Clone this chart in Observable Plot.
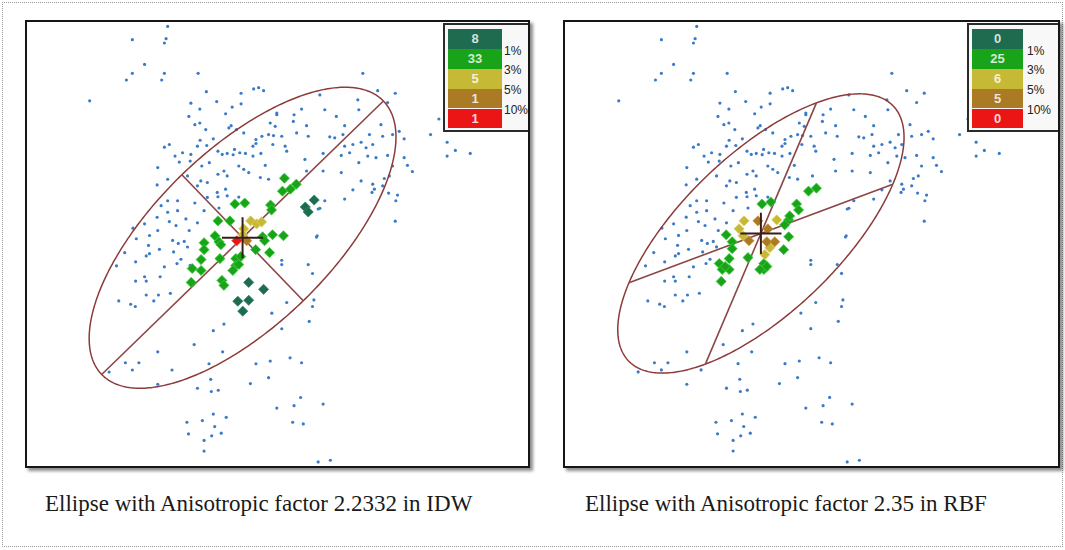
<!DOCTYPE html>
<html><head><meta charset="utf-8">
<script src="https://cdn.jsdelivr.net/npm/d3@7"></script>
<script src="https://cdn.jsdelivr.net/npm/@observablehq/plot@0.6"></script>
<style>
body{margin:0;background:#fff;}
#page{position:relative;width:1065px;height:550px;overflow:hidden;background:#fff;}
.outer{position:absolute;left:2px;top:2px;width:1061px;height:545px;border:1px dotted #9a9a9a;box-sizing:border-box;}
.panel{position:absolute;box-sizing:border-box;border:2px solid #161616;overflow:hidden;background:#fff;box-shadow:3px 3px 3px rgba(0,0,0,0.45);}
.panel svg{position:absolute;left:-2px;top:-2px;}
.caption{position:absolute;font-family:"Liberation Serif","Times New Roman",serif;font-size:23px;color:#1a1a1a;white-space:nowrap;line-height:23px;}
.lbox{position:absolute;box-sizing:border-box;border:2px solid #2a2a2a;background:#f8f8f8;}
.lcell{position:absolute;text-align:center;font-family:"Liberation Sans",Arial,sans-serif;font-size:13px;font-weight:bold;color:rgba(255,255,255,0.82);}
.llab{position:absolute;font-family:"Liberation Sans",Arial,sans-serif;font-size:12px;color:#222;line-height:14px;white-space:nowrap;}
</style></head>
<body><div id="page"><div class="outer"></div></div>
<script>
// ---------- data (image-pixel units of the left panel) ----------
const bluePoints = [
[168.3,26],[132.7,39.3],[166.7,38.3],[165,42.7],[145,64.3],[132.7,73.3],[126.7,80],[165,73.3],[162.3,80],[199,73.3],[89.7,101],[207.3,91.7],[255,89],[260,87.7],[265,90.7],[242.3,93.3],[191.7,103.3],[200.7,109.3],[217.7,101.7],[226.7,114],[233.3,107.3],[242.3,104],[189.7,116.7],[195.7,125],[200.7,123.3],[206.7,130],[232.3,126],[230,128.3],[237.7,130],[245,133.3],[271.7,123.3],[263.3,136.7],[257.3,140],[257.3,144],[254.3,146.7],[270,135],[275,136],[278.3,115],[165,147.7],[170,145],[175.7,156.7],[183.3,153.3],[191.7,155],[180,162.7],[198.3,146.7],[207.7,146],[214.3,139.3],[201,140.7],[219,151.7],[223.3,155],[228.3,154],[234.3,155.3],[235.7,150],[241,153.3],[246.7,154],[254.3,156.7],[262.3,154],[274.3,145],[266.7,166],[245,170],[250,173.3],[240,166.7],[225,171.7],[219,175],[228.3,176.7],[210.3,163.3],[202.7,166.7],[191,161.7],[158.3,168.3],[157.7,185.7],[168.3,180],[188.3,176.7],[208.3,183.3],[201.7,181.7],[218.3,193.3],[219,197.7],[226.7,190],[228.3,196.7],[240,198],[220,209],[208.3,198.3],[198.3,186.7],[161.7,206.7],[168.3,201.7],[178.3,201.7],[186.7,220],[195.7,204],[205,211.7],[168.3,213.3],[178.3,211.7],[157.7,218.3],[170,222.7],[176.7,226.7],[190,231.7],[198.3,224],[145,225],[150,236.7],[158.3,231.7],[133.3,229.3],[136.7,240],[173.3,241.7],[185,242.7],[261.7,178.3],[270,180],
[365,73.3],[380,90.7],[397.7,93.3],[390,102.7],[360,100],[361,110],[326.7,110],[321.7,95],[303.3,109.3],[295.7,115],[295,121.7],[278.3,113.3],[276.7,126.7],[308.3,126],[310,136.7],[298.3,133.3],[331.7,137.3],[336.7,138.3],[346.7,126],[338.3,116.7],[345,135],[346.7,146.7],[355,145],[363.3,142.7],[371.7,135],[375,145],[368.3,148.3],[383.3,125],[385,136.7],[395,135],[401.7,131.7],[406.7,139.3],[406.7,158.3],[410,166],[415,172.3],[395,166.7],[391.7,176.7],[390,156],[378.3,158.3],[370,156.7],[361,163.3],[351.7,153.3],[343.3,156],[325,154],[343.3,173.3],[355,190.7],[363.3,181.7],[375,185],[376.7,190],[374.3,193.3],[386.7,179.3],[385,186.7],[391,194],[400,196],[398.3,201.7],[326.7,201.7],[321.7,209.3],[346.7,200],[397.7,222.3],[318.3,238.3],[433.3,135],[441.7,119.3],[450,142.7],[450,156.7],[458.3,151],[473.3,154],[286.7,146.7],[288.3,151.7],[283.3,136.7],[306.7,160],[285,176.7],[308.3,171.7],[325,171.7],[320,210],[319,237],
[125,254],[116.7,267.3],[136,263.3],[146.7,257.3],[150,255],[149,246.7],[160,250.7],[174.3,253.3],[179,244.7],[188.3,248.3],[181.7,260.7],[177.7,265],[191,266.7],[165,268.3],[160.7,278.3],[145,278.3],[146.7,282.7],[136,282.7],[146.7,296.7],[159,296.7],[154.3,302.7],[171,295],[119,302.7],[131,306],[135.7,308.3],[195,346.7],[214.3,332.7],[225,326],[223.7,354],[210,366],[158.3,354],[125.7,365],[139.3,365],[132.7,372.3],[109.3,374.3],[172.7,372.3],[158.3,386.7],[198.3,390.7],[211.7,381.7],[212.3,394],[219.3,392.7],[257.3,366],[251.7,386],[271.7,363.3],[270,380],[273.3,315],[278.3,410.7],[187.7,425],[203.3,423.3],[214.3,416.7],[227.3,420],[215.7,429.3],[189.3,436.7],[205,443.3],[212.7,438.7],[222.3,436],[205,454],
[283.3,261.7],[283.3,266],[310,266],[314.3,275],[288.3,304.3],[315.7,301.7],[314.3,308.3],[311,323.3],[283.3,330.7],[291.7,360],[303.3,365],[302.3,400],[295.7,408.3],[325,406.7],[294.3,425],[305,426.7],[320,465],[332.3,463.3]
];

// Ellipses: centre, conjugate semi-diameters p and q
const ellipseCenters = [[243.8,239],[233,234.7]];
const ellipseP = [[142,-137.8],[133,-49.7]];
const ellipseQ = [[-61.2,-63.5],[56,-131.7]];

// Diamond markers, left panel (IDW)
const leftTeal = [[307,208],[310,213],[316,201],[250,284],[265,291],[239,303],[250,302],[244,313]];
const leftGreen = [[286,179],[284,192],[292,190],[298,185],[236,205],[246,204],[272,206],[273,211],[219,222],[231,222],[264,238],[274,236],[285,237],[216,237],[220,243],[205,244],[205,251],[222,246],[257,251],[271,254],[202,261],[221,260],[237,260],[237,267],[234,272],[240,266],[193,270],[202,272],[192,284],[223,282],[225,287],[266,242],[242,258]];
const leftYellow = [[245,230],[252,222],[258,225],[263,223],[244,236]];
const leftBrown = [[248,242]];
const leftRed = [[238,242]];

// Diamond markers, right panel (RBF)
const rightTeal = [];
const rightGreen = [[234,205],[243,203],[269,205],[271,211],[281,192],[289,189],[261,221],[257,226],[261,238],[198,236],[204,243],[204,250],[256,251],[201,260],[220,259],[191,265],[194,271],[201,271],[236,265],[236,271],[232,271],[193,283],[197,268],[239,268],[262,217]];
const rightYellow = [[216,222],[249,221],[215,237],[237,256],[211,230],[242,249]];
const rightBrown = [[230,222],[240,230],[221,242],[239,243],[247,243]];
const rightRed = [];

const classColors = ["#1e6b4f","#19a319","#c6b935","#ab7a24","#ec1515"];
const classStroke = ["#2e8a66","#3cd13c","#ddd060","#c99a40","#ff4040"];
const legendLabels = ["1%","3%","5%","10%"];
const captions = ["Ellipse with Anisotropic factor 2.2332 in IDW","Ellipse with Anisotropic factor 2.35 in RBF"];

// ---------- drawing ----------
const page = document.getElementById("page");
const panels = [
  {left:25, top:20, width:505, height:448, x0:25, classes:[leftTeal,leftGreen,leftYellow,leftBrown,leftRed],
   legend:{bx:443, cellX:448, cellW:54, labX:504}, cap:{x:45, y:492}},
  {left:563, top:20, width:497, height:448, x0:34, classes:[rightTeal,rightGreen,rightYellow,rightBrown,rightRed],
   legend:{bx:967, cellX:972, cellW:51, labX:1027}, cap:{x:585, y:492}}
];

panels.forEach((pn, i) => {
  const c = ellipseCenters[i], p = ellipseP[i], q = ellipseQ[i];
  const ell = d3.range(0, 361).map(a => {
    const t = a * Math.PI / 180;
    return {x: c[0] + p[0]*Math.cos(t) + q[0]*Math.sin(t), y: c[1] + p[1]*Math.cos(t) + q[1]*Math.sin(t)};
  });
  const axes = [p, q].map(v => ({x1: c[0]-v[0], y1: c[1]-v[1], x2: c[0]+v[0], y2: c[1]+v[1]}));
  const diamonds = [];
  pn.classes.forEach((arr, k) => arr.forEach(d => diamonds.push({x:d[0], y:d[1], k})));
  const order = [1,0,2,3,4];
  diamonds.sort((a,b) => order.indexOf(a.k) - order.indexOf(b.k));

  const svg = Plot.plot({
    width: pn.width, height: pn.height, margin: 0,
    x: {domain: [pn.x0, pn.x0 + pn.width], axis: null},
    y: {domain: [20 + pn.height, 20], axis: null},
    color: {type: "identity"},
    marks: [
      Plot.dot(bluePoints, {x: d => d[0], y: d => d[1], r: 1.6, fill: "#3a7bc8"}),
      Plot.line(ell, {x: "x", y: "y", stroke: "#8c3a3a", strokeWidth: 1.5}),
      Plot.link(axes, {x1: "x1", y1: "y1", x2: "x2", y2: "y2", stroke: "#8c4545", strokeWidth: 1.6}),
      Plot.dot(diamonds, {x: "x", y: "y", symbol: "diamond2", r: 4.6, fill: d => classColors[d.k], stroke: d => classStroke[d.k], strokeWidth: 0.8}),
      Plot.dot([c], {x: d => d[0], y: d => d[1], symbol: "plus", r: 13.4, stroke: "#3a1c18", strokeWidth: 2})
    ]
  });

  const div = document.createElement("div");
  div.className = "panel";
  Object.assign(div.style, {left: pn.left + "px", top: pn.top + "px", width: pn.width + "px", height: pn.height + "px"});
  div.appendChild(svg);

  // legend (positions given in page pixels, converted to panel padding box)
  const ox = pn.left + 2, oy = pn.top + 2;
  const L = pn.legend;
  const box = document.createElement("div");
  box.className = "lbox";
  Object.assign(box.style, {left: (L.bx - ox) + "px", top: (23 - oy) + "px", width: "110px", height: "109px"});
  div.appendChild(box);
  const rowTop = 29.3, rowH = 19.8;
  pn.classes.forEach((arr, k) => {
    const cell = document.createElement("div");
    cell.className = "lcell";
    Object.assign(cell.style, {left: (L.cellX - ox) + "px", top: (rowTop + k*rowH - oy) + "px", width: L.cellW + "px", height: rowH + "px", lineHeight: rowH + "px", background: classColors[k]});
    cell.textContent = arr.length;
    div.appendChild(cell);
  });
  legendLabels.forEach((t, k) => {
    const lab = document.createElement("div");
    lab.className = "llab";
    Object.assign(lab.style, {left: (L.labX - ox) + "px", top: (rowTop + (k+1)*rowH + 1.5 - 7 - oy) + "px"});
    lab.textContent = t;
    div.appendChild(lab);
  });
  page.appendChild(div);

  const cap = document.createElement("div");
  cap.className = "caption";
  Object.assign(cap.style, {left: pn.cap.x + "px", top: pn.cap.y + "px"});
  cap.textContent = captions[i];
  page.appendChild(cap);
});
</script>
</body></html>
